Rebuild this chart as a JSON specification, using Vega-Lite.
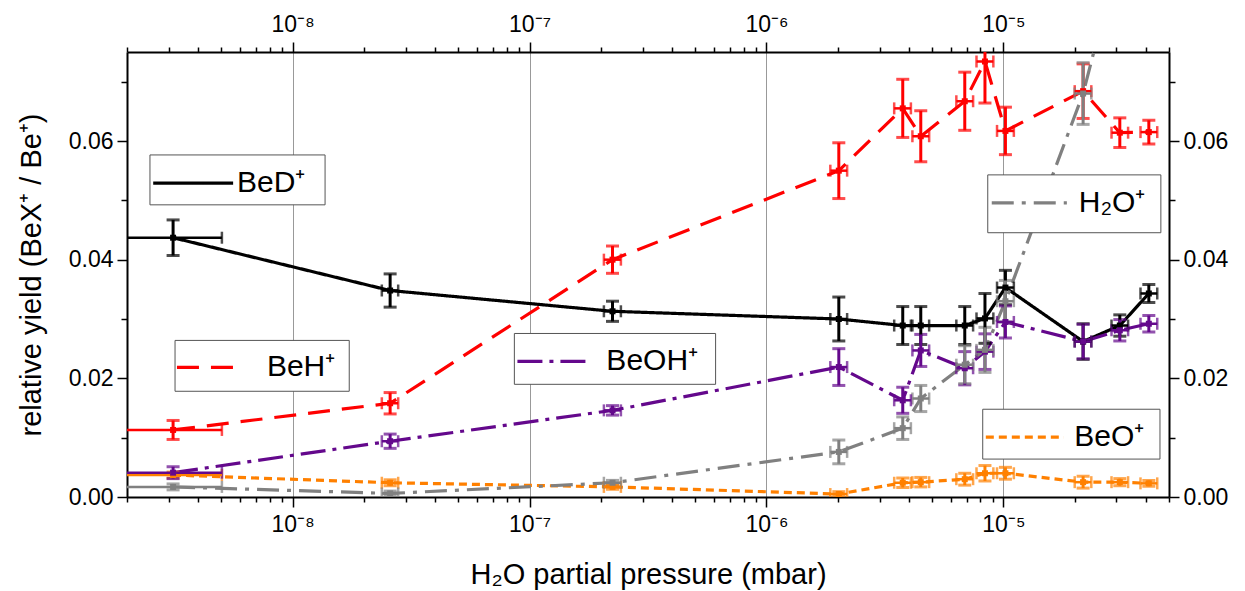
{
  "$schema": "https://vega.github.io/schema/vega-lite/v6.json",
  "autosize": {"type": "none"},
  "padding": {"left": 127, "top": 52, "right": 76, "bottom": 94},
  "width": 1042,
  "height": 445,
  "background": "white",
  "config": {
    "view": {"stroke": null},
    "font": "Liberation Sans",
    "axis": {"domainColor": "black", "domainWidth": 2, "tickColor": "black", "tickWidth": 1.5, "labelColor": "black", "labelFont": "Liberation Sans", "labelFontSize": 23, "titleFont": "Liberation Sans", "titleFontSize": 29, "titleFontWeight": "normal", "titleColor": "black"}
  },
  "datasets": {
    "pts": [
      {"s": "BeO+", "p": 3.13e-9, "pl": 1.2e-9, "ph": 5.03e-9, "v": 0.0037, "vl": 0.0032, "vh": 0.0042},
      {"s": "BeO+", "p": 2.58e-8, "pl": 2.38e-8, "ph": 2.79e-8, "v": 0.0024, "vl": 0.0019, "vh": 0.0029},
      {"s": "BeO+", "p": 2.24e-7, "pl": 2.06e-7, "ph": 2.43e-7, "v": 0.0017, "vl": 0.0013, "vh": 0.0021},
      {"s": "BeO+", "p": 2.02e-6, "pl": 1.86e-6, "ph": 2.19e-6, "v": 0.0005, "vl": 0.0001, "vh": 0.0009},
      {"s": "BeO+", "p": 3.76e-6, "pl": 3.46e-6, "ph": 4.07e-6, "v": 0.0024, "vl": 0.0016, "vh": 0.0032},
      {"s": "BeO+", "p": 4.48e-6, "pl": 4.13e-6, "ph": 4.86e-6, "v": 0.0025, "vl": 0.0017, "vh": 0.0033},
      {"s": "BeO+", "p": 6.87e-6, "pl": 6.33e-6, "ph": 7.45e-6, "v": 0.0030, "vl": 0.0020, "vh": 0.0040},
      {"s": "BeO+", "p": 8.36e-6, "pl": 7.70e-6, "ph": 9.07e-6, "v": 0.0040, "vl": 0.0027, "vh": 0.0053},
      {"s": "BeO+", "p": 1.02e-5, "pl": 0.94e-5, "ph": 1.107e-5, "v": 0.0040, "vl": 0.0030, "vh": 0.0050},
      {"s": "BeO+", "p": 2.17e-5, "pl": 2.0e-5, "ph": 2.35e-5, "v": 0.0025, "vl": 0.0015, "vh": 0.0035},
      {"s": "BeO+", "p": 3.10e-5, "pl": 2.86e-5, "ph": 3.36e-5, "v": 0.0025, "vl": 0.0019, "vh": 0.0031},
      {"s": "BeO+", "p": 4.11e-5, "pl": 3.79e-5, "ph": 4.46e-5, "v": 0.0023, "vl": 0.0018, "vh": 0.0028},

      {"s": "BeD+", "p": 3.13e-9, "pl": 1.2e-9, "ph": 5.03e-9, "v": 0.0437, "vl": 0.0407, "vh": 0.0467},
      {"s": "BeD+", "p": 2.58e-8, "pl": 2.38e-8, "ph": 2.79e-8, "v": 0.0348, "vl": 0.0320, "vh": 0.0376},
      {"s": "BeD+", "p": 2.24e-7, "pl": 2.06e-7, "ph": 2.43e-7, "v": 0.0313, "vl": 0.0296, "vh": 0.0330},
      {"s": "BeD+", "p": 2.02e-6, "pl": 1.86e-6, "ph": 2.19e-6, "v": 0.0300, "vl": 0.0263, "vh": 0.0337},
      {"s": "BeD+", "p": 3.76e-6, "pl": 3.46e-6, "ph": 4.07e-6, "v": 0.0289, "vl": 0.0257, "vh": 0.0321},
      {"s": "BeD+", "p": 4.48e-6, "pl": 4.13e-6, "ph": 4.86e-6, "v": 0.0289, "vl": 0.0257, "vh": 0.0321},
      {"s": "BeD+", "p": 6.87e-6, "pl": 6.33e-6, "ph": 7.45e-6, "v": 0.0289, "vl": 0.0257, "vh": 0.0321},
      {"s": "BeD+", "p": 8.36e-6, "pl": 7.70e-6, "ph": 9.07e-6, "v": 0.0301, "vl": 0.0259, "vh": 0.0343},
      {"s": "BeD+", "p": 1.02e-5, "pl": 0.94e-5, "ph": 1.107e-5, "v": 0.0353, "vl": 0.0324, "vh": 0.0382},
      {"s": "BeD+", "p": 2.17e-5, "pl": 2.0e-5, "ph": 2.35e-5, "v": 0.0262, "vl": 0.0232, "vh": 0.0292},
      {"s": "BeD+", "p": 3.10e-5, "pl": 2.86e-5, "ph": 3.36e-5, "v": 0.0289, "vl": 0.0271, "vh": 0.0307},
      {"s": "BeD+", "p": 4.11e-5, "pl": 3.79e-5, "ph": 4.46e-5, "v": 0.0343, "vl": 0.0328, "vh": 0.0358},

      {"s": "BeH+", "p": 3.13e-9, "pl": 1.2e-9, "ph": 5.03e-9, "v": 0.0113, "vl": 0.0097, "vh": 0.0129},
      {"s": "BeH+", "p": 2.58e-8, "pl": 2.38e-8, "ph": 2.79e-8, "v": 0.0158, "vl": 0.0140, "vh": 0.0176},
      {"s": "BeH+", "p": 2.24e-7, "pl": 2.06e-7, "ph": 2.43e-7, "v": 0.0400, "vl": 0.0377, "vh": 0.0423},
      {"s": "BeH+", "p": 2.02e-6, "pl": 1.86e-6, "ph": 2.19e-6, "v": 0.0550, "vl": 0.0503, "vh": 0.0597},
      {"s": "BeH+", "p": 3.76e-6, "pl": 3.46e-6, "ph": 4.07e-6, "v": 0.0655, "vl": 0.0606, "vh": 0.0704},
      {"s": "BeH+", "p": 4.48e-6, "pl": 4.13e-6, "ph": 4.86e-6, "v": 0.0608, "vl": 0.0565, "vh": 0.0651},
      {"s": "BeH+", "p": 6.87e-6, "pl": 6.33e-6, "ph": 7.45e-6, "v": 0.0667, "vl": 0.0618, "vh": 0.0716},
      {"s": "BeH+", "p": 8.36e-6, "pl": 7.70e-6, "ph": 9.07e-6, "v": 0.0734, "vl": 0.0664, "vh": 0.0804},
      {"s": "BeH+", "p": 1.02e-5, "pl": 0.94e-5, "ph": 1.107e-5, "v": 0.0617, "vl": 0.0577, "vh": 0.0657},
      {"s": "BeH+", "p": 2.17e-5, "pl": 2.0e-5, "ph": 2.35e-5, "v": 0.0684, "vl": 0.0638, "vh": 0.0730},
      {"s": "BeH+", "p": 3.10e-5, "pl": 2.86e-5, "ph": 3.36e-5, "v": 0.0614, "vl": 0.0589, "vh": 0.0639},
      {"s": "BeH+", "p": 4.11e-5, "pl": 3.79e-5, "ph": 4.46e-5, "v": 0.0615, "vl": 0.0595, "vh": 0.0635},

      {"s": "BeOH+", "p": 3.13e-9, "pl": 1.2e-9, "ph": 5.03e-9, "v": 0.0041, "vl": 0.0031, "vh": 0.0051},
      {"s": "BeOH+", "p": 2.58e-8, "pl": 2.38e-8, "ph": 2.79e-8, "v": 0.0094, "vl": 0.0082, "vh": 0.0106},
      {"s": "BeOH+", "p": 2.24e-7, "pl": 2.06e-7, "ph": 2.43e-7, "v": 0.0146, "vl": 0.0138, "vh": 0.0154},
      {"s": "BeOH+", "p": 2.02e-6, "pl": 1.86e-6, "ph": 2.19e-6, "v": 0.0219, "vl": 0.0188, "vh": 0.0250},
      {"s": "BeOH+", "p": 3.76e-6, "pl": 3.46e-6, "ph": 4.07e-6, "v": 0.0163, "vl": 0.0141, "vh": 0.0185},
      {"s": "BeOH+", "p": 4.48e-6, "pl": 4.13e-6, "ph": 4.86e-6, "v": 0.0247, "vl": 0.0220, "vh": 0.0274},
      {"s": "BeOH+", "p": 6.87e-6, "pl": 6.33e-6, "ph": 7.45e-6, "v": 0.0217, "vl": 0.0189, "vh": 0.0245},
      {"s": "BeOH+", "p": 8.36e-6, "pl": 7.70e-6, "ph": 9.07e-6, "v": 0.0245, "vl": 0.0215, "vh": 0.0275},
      {"s": "BeOH+", "p": 1.02e-5, "pl": 0.94e-5, "ph": 1.107e-5, "v": 0.0295, "vl": 0.0268, "vh": 0.0322},
      {"s": "BeOH+", "p": 2.17e-5, "pl": 2.0e-5, "ph": 2.35e-5, "v": 0.0262, "vl": 0.0233, "vh": 0.0291},
      {"s": "BeOH+", "p": 3.10e-5, "pl": 2.86e-5, "ph": 3.36e-5, "v": 0.0281, "vl": 0.0263, "vh": 0.0299},
      {"s": "BeOH+", "p": 4.11e-5, "pl": 3.79e-5, "ph": 4.46e-5, "v": 0.0292, "vl": 0.0278, "vh": 0.0306},

      {"s": "H2O+", "p": 3.13e-9, "pl": 1.2e-9, "ph": 5.03e-9, "v": 0.0017, "vl": 0.0012, "vh": 0.0022},
      {"s": "H2O+", "p": 2.58e-8, "pl": 2.38e-8, "ph": 2.79e-8, "v": 0.0006, "vl": 0.0002, "vh": 0.0010},
      {"s": "H2O+", "p": 2.24e-7, "pl": 2.06e-7, "ph": 2.43e-7, "v": 0.0024, "vl": 0.0020, "vh": 0.0028},
      {"s": "H2O+", "p": 2.02e-6, "pl": 1.86e-6, "ph": 2.19e-6, "v": 0.0076, "vl": 0.0056, "vh": 0.0096},
      {"s": "H2O+", "p": 3.76e-6, "pl": 3.46e-6, "ph": 4.07e-6, "v": 0.0116, "vl": 0.0097, "vh": 0.0135},
      {"s": "H2O+", "p": 4.48e-6, "pl": 4.13e-6, "ph": 4.86e-6, "v": 0.0166, "vl": 0.0144, "vh": 0.0188},
      {"s": "H2O+", "p": 6.87e-6, "pl": 6.33e-6, "ph": 7.45e-6, "v": 0.0223, "vl": 0.0191, "vh": 0.0255},
      {"s": "H2O+", "p": 8.36e-6, "pl": 7.70e-6, "ph": 9.07e-6, "v": 0.0248, "vl": 0.0210, "vh": 0.0286},
      {"s": "H2O+", "p": 1.02e-5, "pl": 0.94e-5, "ph": 1.107e-5, "v": 0.0330, "vl": 0.0295, "vh": 0.0365},
      {"s": "H2O+", "p": 2.17e-5, "pl": 2.0e-5, "ph": 2.35e-5, "v": 0.0680, "vl": 0.0628, "vh": 0.0732},
      {"s": "H2O+", "p": 3.10e-5, "pl": 2.86e-5, "ph": 3.36e-5, "v": 0.0920, "vl": 0.0870, "vh": 0.0970},
      {"s": "H2O+", "p": 4.11e-5, "pl": 3.79e-5, "ph": 4.46e-5, "v": 0.1000, "vl": 0.0950, "vh": 0.1050}
    ],
    "leg": [
      {"s": "BeD+", "bx1": 2.50e-9, "bx2": 1.371e-8, "by1": 0.04924, "by2": 0.05765, "lx1": 2.58e-9, "lx2": 5.61e-9, "ly": 0.0529, "tx": 5.83e-9, "label": "BeD⁺"},
      {"s": "BeH+", "bx1": 3.19e-9, "bx2": 1.734e-8, "by1": 0.01782, "by2": 0.02639, "lx1": 3.25e-9, "lx2": 5.71e-9, "ly": 0.02185, "tx": 7.79e-9, "label": "BeH⁺"},
      {"s": "BeOH+", "bx1": 8.63e-8, "bx2": 6.10e-7, "by1": 0.01899, "by2": 0.02756, "lx1": 8.89e-8, "lx2": 1.774e-7, "ly": 0.02286, "tx": 2.11e-7, "label": "BeOH⁺"},
      {"s": "H2O+", "bx1": 8.59e-6, "bx2": 4.62e-5, "by1": 0.04454, "by2": 0.05429, "lx1": 8.93e-6, "lx2": 1.853e-5, "ly": 0.04958, "tx": 2.08e-5, "label": "H₂O⁺"},
      {"s": "BeO+", "bx1": 8.18e-6, "bx2": 4.58e-5, "by1": 0.00639, "by2": 0.01479, "lx1": 8.43e-6, "lx2": 1.80e-5, "ly": 0.01008, "tx": 1.99e-5, "label": "BeO⁺"}
    ]
  },
  "resolve": {"axis": {"x": "independent", "y": "independent"}},
  "layer": [
    {
      "data": {"name": "pts"},
      "mark": {"type": "line", "strokeWidth": 3.2, "clip": true},
      "encoding": {
        "x": {"field": "p", "type": "quantitative", "scale": {"type": "log", "domain": [2e-9, 5e-5]},
          "axis": {"orient": "bottom", "title": "H₂O partial pressure (mbar)", "titlePadding": 24,
            "values": [2e-9,3e-9,4e-9,5e-9,6e-9,7e-9,8e-9,9e-9,1e-8,2e-8,3e-8,4e-8,5e-8,6e-8,7e-8,8e-8,9e-8,1e-7,2e-7,3e-7,4e-7,5e-7,6e-7,7e-7,8e-7,9e-7,1e-6,2e-6,3e-6,4e-6,5e-6,6e-6,7e-6,8e-6,9e-6,1e-5,2e-5,3e-5,4e-5,5e-5],
            "labelExpr": "abs(log(datum.value)/LN10 - round(log(datum.value)/LN10)) < 0.001 ? '10⁻' + ['⁰','¹','²','³','⁴','⁵','⁶','⁷','⁸','⁹'][-round(log(datum.value)/LN10)] : ''",
            "tickSize": {"condition": {"test": "abs(log(datum.value)/LN10 - round(log(datum.value)/LN10)) < 0.001", "value": 10}, "value": 5},
            "labelPadding": 6,
            "grid": true, "gridColor": "#999999", "gridWidth": 1,
            "gridOpacity": {"condition": {"test": "abs(log(datum.value)/LN10 - round(log(datum.value)/LN10)) < 0.001", "value": 1}, "value": 0}
          }},
        "y": {"field": "v", "type": "quantitative", "scale": {"domain": [0, 0.075], "nice": false},
          "axis": {"orient": "left", "title": "relative yield (BeX⁺ / Be⁺)", "titlePadding": 22,
            "values": [0, 0.01, 0.02, 0.03, 0.04, 0.05, 0.06, 0.07],
            "labelExpr": "round(datum.value*100) % 2 == 0 ? format(datum.value, '.2f') : ''",
            "tickSize": {"condition": {"test": "round(datum.value*100) % 2 == 0", "value": 10}, "value": 6},
            "labelPadding": 4, "grid": false}},
        "color": {"field": "s", "type": "nominal", "scale": {"domain": ["BeD+", "BeH+", "BeOH+", "H2O+", "BeO+"], "range": ["#000000", "#ff0000", "#64088c", "#808080", "#ff8000"]}, "legend": null},
        "strokeDash": {"field": "s", "type": "nominal", "scale": {"domain": ["BeD+", "BeH+", "BeOH+", "H2O+", "BeO+"], "range": [[1, 0], [22, 12], [25, 7, 4, 7], [22, 8, 4, 8], [8, 5]]}, "legend": null}
      }
    },
    {
      "data": {"name": "pts"},
      "mark": {"type": "errorbar", "ticks": true, "size": 13, "thickness": 3, "clip": true},
      "encoding": {
        "x": {"field": "p", "type": "quantitative", "scale": {"type": "log", "domain": [2e-9, 5e-5]}, "axis": null},
        "y": {"field": "vl", "type": "quantitative", "scale": {"domain": [0, 0.075], "nice": false}, "axis": null},
        "y2": {"field": "vh"},
        "color": {"field": "s", "type": "nominal", "legend": null}
      }
    },
    {
      "data": {"name": "pts"},
      "mark": {"type": "errorbar", "ticks": true, "size": 12, "thickness": 2.5, "clip": true},
      "encoding": {
        "y": {"field": "v", "type": "quantitative", "scale": {"domain": [0, 0.075], "nice": false}, "axis": null},
        "x": {"field": "pl", "type": "quantitative", "scale": {"type": "log", "domain": [2e-9, 5e-5]}, "axis": null},
        "x2": {"field": "ph"},
        "color": {"field": "s", "type": "nominal", "legend": null}
      }
    },
    {
      "data": {"name": "pts"},
      "mark": {"type": "point", "shape": "square", "filled": true, "size": 36, "opacity": 1, "clip": true},
      "encoding": {
        "x": {"field": "p", "type": "quantitative", "scale": {"type": "log", "domain": [2e-9, 5e-5]},
          "axis": {"orient": "top", "title": null,
            "values": [2e-9,3e-9,4e-9,5e-9,6e-9,7e-9,8e-9,9e-9,1e-8,2e-8,3e-8,4e-8,5e-8,6e-8,7e-8,8e-8,9e-8,1e-7,2e-7,3e-7,4e-7,5e-7,6e-7,7e-7,8e-7,9e-7,1e-6,2e-6,3e-6,4e-6,5e-6,6e-6,7e-6,8e-6,9e-6,1e-5,2e-5,3e-5,4e-5,5e-5],
            "labelExpr": "abs(log(datum.value)/LN10 - round(log(datum.value)/LN10)) < 0.001 ? '10⁻' + ['⁰','¹','²','³','⁴','⁵','⁶','⁷','⁸','⁹'][-round(log(datum.value)/LN10)] : ''",
            "tickSize": {"condition": {"test": "abs(log(datum.value)/LN10 - round(log(datum.value)/LN10)) < 0.001", "value": 10}, "value": 5},
            "labelPadding": 6, "grid": false}},
        "y": {"field": "v", "type": "quantitative", "scale": {"domain": [0, 0.075], "nice": false},
          "axis": {"orient": "right", "title": null,
            "values": [0, 0.01, 0.02, 0.03, 0.04, 0.05, 0.06, 0.07],
            "labelExpr": "round(datum.value*100) % 2 == 0 ? format(datum.value, '.2f') : ''",
            "tickSize": {"condition": {"test": "round(datum.value*100) % 2 == 0", "value": 10}, "value": 6},
            "labelPadding": 4, "grid": false}},
        "color": {"field": "s", "type": "nominal", "legend": null}
      }
    },
    {
      "data": {"name": "leg"},
      "mark": {"type": "rect", "fill": "white", "stroke": "#555555", "strokeWidth": 1},
      "encoding": {
        "x": {"field": "bx1", "type": "quantitative", "scale": {"type": "log", "domain": [2e-9, 5e-5]}, "axis": null},
        "x2": {"field": "bx2"},
        "y": {"field": "by1", "type": "quantitative", "scale": {"domain": [0, 0.075], "nice": false}, "axis": null},
        "y2": {"field": "by2"}
      }
    },
    {
      "data": {"name": "leg"},
      "mark": {"type": "rule", "strokeWidth": 3.2},
      "encoding": {
        "x": {"field": "lx1", "type": "quantitative", "scale": {"type": "log", "domain": [2e-9, 5e-5]}, "axis": null},
        "x2": {"field": "lx2"},
        "y": {"field": "ly", "type": "quantitative", "scale": {"domain": [0, 0.075], "nice": false}, "axis": null},
        "color": {"field": "s", "type": "nominal", "legend": null},
        "strokeDash": {"field": "s", "type": "nominal", "legend": null}
      }
    },
    {
      "data": {"name": "leg"},
      "mark": {"type": "text", "align": "left", "baseline": "middle", "fontSize": 30, "font": "Liberation Sans", "color": "black"},
      "encoding": {
        "x": {"field": "tx", "type": "quantitative", "scale": {"type": "log", "domain": [2e-9, 5e-5]}, "axis": null},
        "y": {"field": "ly", "type": "quantitative", "scale": {"domain": [0, 0.075], "nice": false}, "axis": null},
        "text": {"field": "label"}
      }
    }
  ]
}
